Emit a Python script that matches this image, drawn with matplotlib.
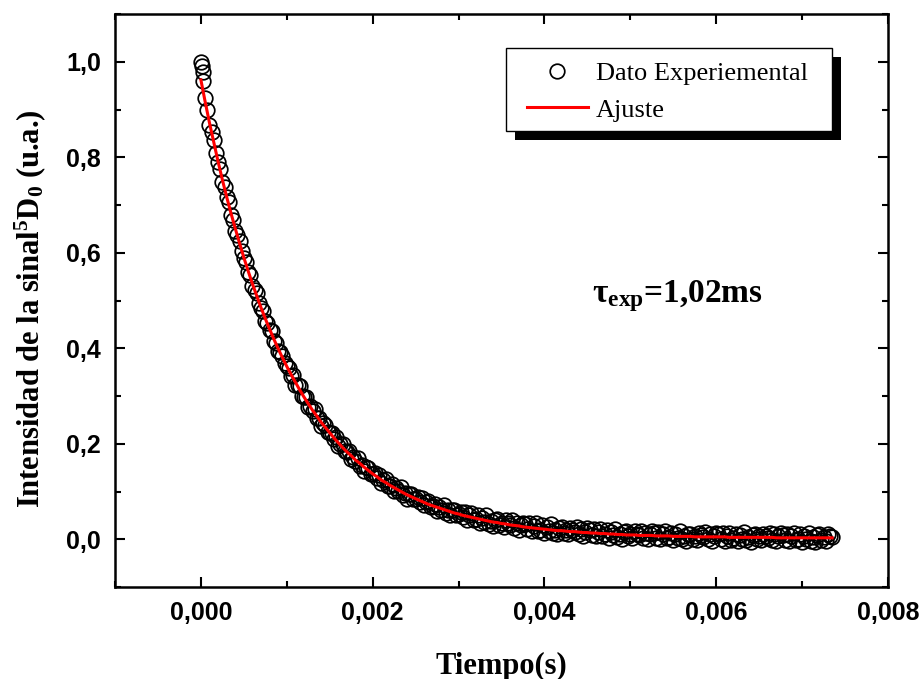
import matplotlib
matplotlib.use('Agg')
import matplotlib.pyplot as plt
import numpy as np
from matplotlib.patches import Rectangle
from matplotlib.ticker import FuncFormatter, MultipleLocator

# decay of the 5D0 emission; data every 0.025 ms, fit every 0.05 ms
dt_data_ms = 0.025
dt_fit_ms = 0.05
t_head_ms = [0.00, 0.01, 0.02]
y_head = [1.000, 0.992, 0.978]

y_data = [
    0.960, 0.925, 0.898, 0.868, 0.852, 0.836, 0.808, 0.790, 0.776, 0.748,
    0.737, 0.716, 0.706, 0.680, 0.668, 0.646, 0.638, 0.624, 0.603, 0.590,
    0.580, 0.560, 0.553, 0.531, 0.523, 0.515, 0.494, 0.484, 0.478, 0.457,
    0.453, 0.439, 0.436, 0.416, 0.410, 0.394, 0.393, 0.384, 0.369, 0.362,
    0.358, 0.342, 0.344, 0.323, 0.323, 0.321, 0.301, 0.297, 0.297, 0.277,
    0.280, 0.268, 0.273, 0.253, 0.253, 0.237, 0.244, 0.240, 0.225, 0.223,
    0.222, 0.209, 0.214, 0.196, 0.199, 0.200, 0.184, 0.182, 0.185, 0.168,
    0.173, 0.164, 0.171, 0.154, 0.156, 0.143, 0.151, 0.150, 0.137, 0.137,
    0.139, 0.128, 0.135, 0.118, 0.124, 0.127, 0.112, 0.112, 0.116, 0.101,
    0.108, 0.101, 0.109, 0.093, 0.097, 0.085, 0.095, 0.095, 0.084, 0.085,
    0.088, 0.078, 0.086, 0.071, 0.077, 0.081, 0.068, 0.069, 0.074, 0.060,
    0.068, 0.062, 0.071, 0.056, 0.061, 0.050, 0.061, 0.061, 0.051, 0.053,
    0.058, 0.046, 0.058, 0.041, 0.050, 0.056, 0.040, 0.042, 0.051, 0.034,
    0.045, 0.037, 0.050, 0.032, 0.038, 0.027, 0.041, 0.042, 0.030, 0.035,
    0.026, 0.040, 0.034, 0.029, 0.040, 0.024, 0.034, 0.020, 0.029, 0.035,
    0.032, 0.021, 0.034, 0.017, 0.027, 0.033, 0.018, 0.020, 0.030, 0.013,
    0.025, 0.017, 0.031, 0.013, 0.020, 0.010, 0.023, 0.025, 0.013, 0.019,
    0.011, 0.024, 0.019, 0.015, 0.025, 0.010, 0.021, 0.006, 0.016, 0.023,
    0.020, 0.009, 0.022, 0.006, 0.016, 0.022, 0.007, 0.010, 0.020, 0.003,
    0.015, 0.008, 0.022, 0.005, 0.011, 0.001, 0.015, 0.017, 0.006, 0.011,
    0.003, 0.017, 0.012, 0.008, 0.018, 0.003, 0.014, 0.000, 0.010, 0.017,
    0.013, 0.003, 0.016, 0.000, 0.010, 0.017, 0.002, 0.004, 0.014, -0.002,
    0.010, 0.003, 0.017, 0.000, 0.007, -0.003, 0.010, 0.012, 0.001, 0.007,
    -0.001, 0.013, 0.008, 0.004, 0.015, 0.000, 0.011, -0.004, 0.006, 0.013,
    0.010, 0.000, 0.013, -0.003, 0.007, 0.014, -0.001, 0.002, 0.012, -0.004,
    0.008, 0.001, 0.015, -0.002, 0.005, -0.005, 0.009, 0.011, 0.000, 0.006,
    -0.002, 0.012, 0.007, 0.003, 0.014, -0.001, 0.010, -0.004, 0.006, 0.013,
    0.009, -0.001, 0.012, -0.004, 0.006, 0.013, -0.002, 0.001, 0.011, -0.005,
    0.007, 0.000, 0.014, -0.003, 0.004, -0.006, 0.008, 0.010, -0.001, 0.005,
    -0.003, 0.011, 0.006, 0.005,
]

y_fit = [
    0.962, 0.916, 0.872, 0.831, 0.791, 0.753, 0.717, 0.683, 0.651, 0.620,
    0.590, 0.562, 0.535, 0.510, 0.485, 0.462, 0.440, 0.419, 0.399, 0.380,
    0.362, 0.345, 0.329, 0.313, 0.298, 0.284, 0.270, 0.258, 0.245, 0.234,
    0.223, 0.212, 0.202, 0.192, 0.183, 0.175, 0.166, 0.159, 0.151, 0.144,
    0.137, 0.131, 0.124, 0.119, 0.113, 0.108, 0.103, 0.098, 0.093, 0.089,
    0.085, 0.081, 0.077, 0.073, 0.070, 0.067, 0.064, 0.061, 0.058, 0.055,
    0.053, 0.050, 0.048, 0.046, 0.044, 0.042, 0.040, 0.038, 0.036, 0.035,
    0.033, 0.032, 0.030, 0.029, 0.028, 0.026, 0.025, 0.024, 0.023, 0.022,
    0.021, 0.020, 0.019, 0.018, 0.018, 0.017, 0.016, 0.016, 0.015, 0.014,
    0.014, 0.013, 0.013, 0.012, 0.012, 0.011, 0.011, 0.010, 0.010, 0.009,
    0.009, 0.009, 0.008, 0.008, 0.008, 0.008, 0.007, 0.007, 0.007, 0.007,
    0.006, 0.006, 0.006, 0.006, 0.006, 0.005, 0.005, 0.005, 0.005, 0.005,
    0.005, 0.005, 0.005, 0.004, 0.004, 0.004, 0.004, 0.004, 0.004, 0.004,
    0.004, 0.004, 0.004, 0.004, 0.003, 0.003, 0.003, 0.003, 0.003, 0.003,
    0.003, 0.003, 0.003, 0.003, 0.003, 0.003, 0.003, 0.003,
]

t_data = np.concatenate([t_head_ms, (np.arange(len(y_data)) + 1) * dt_data_ms]) * 1e-3
y_all = np.concatenate([y_head, y_data])
t_fit = np.arange(len(y_fit)) * dt_fit_ms * 1e-3

plt.rcParams['mathtext.fontset'] = 'custom'
plt.rcParams['mathtext.rm'] = 'Liberation Serif:bold'
plt.rcParams['mathtext.bf'] = 'Liberation Serif:bold'
plt.rcParams['mathtext.it'] = 'Liberation Serif:bold'

W, H = 922, 679
fig = plt.figure(figsize=(W / 100, H / 100), dpi=100)
ax = fig.add_axes([115 / W, 92 / H, 773 / W, 573 / H])

ax.plot(t_data, y_all, 'o', ms=10.5, mfc='none', mec='black', mew=1.25,
        label='Dato Experiemental', zorder=2)
ax.plot(t_fit, y_fit, '-', color='red', lw=2.2, label='Ajuste', zorder=3)

ax.set_xlim(-0.001, 0.008)
ax.set_ylim(-0.1, 1.1)
ax.xaxis.set_major_locator(MultipleLocator(0.002))
ax.xaxis.set_minor_locator(MultipleLocator(0.001))
ax.yaxis.set_minor_locator(MultipleLocator(0.1))
ax.set_yticks([0, 0.2, 0.4, 0.6, 0.8, 1.0])
ax.xaxis.set_major_formatter(FuncFormatter(lambda v, p: f'{v:.3f}'.replace('.', ',')))
ax.yaxis.set_major_formatter(FuncFormatter(lambda v, p: f'{v:.1f}'.replace('.', ',').replace('-', '')))

ax.tick_params(which='both', direction='in', top=True, right=True, width=1.5)
ax.tick_params(which='major', length=7, pad=10)
ax.tick_params(which='minor', length=4.5)
for lab in ax.get_xticklabels() + ax.get_yticklabels():
    lab.set_fontfamily('Liberation Sans')
    lab.set_fontweight('bold')
    lab.set_fontsize(18)
for sp in ax.spines.values():
    sp.set_linewidth(1.8)

ax.set_xlabel('Tiempo(s)', fontfamily='Liberation Serif', fontweight='bold', fontsize=22)
ax.xaxis.set_label_coords(0.5, -0.113)
ax.set_ylabel(r'Intensidad de la sinal$^{5}$D$_{0}$ (u.a.)', fontfamily='Liberation Serif',
              fontweight='bold', fontsize=22)
ax.yaxis.set_label_coords(-0.087, 0.485)

ax.text(0.00455, 0.497, r'τ$_{exp}$=1,02ms', fontfamily='Liberation Serif',
        fontweight='bold', fontsize=24, va='baseline', ha='left')

# legend box with a hard black shadow, like the Origin original
frame = Rectangle((506, H - 131), 326, 83, transform=None, facecolor='white',
                  edgecolor='black', lw=1.0, zorder=5, clip_on=False)
shadow = Rectangle((515, H - 140), 326, 83, transform=None, facecolor='black',
                   edgecolor='none', zorder=4, clip_on=False)
ax.add_artist(shadow)
ax.add_artist(frame)

leg = ax.legend(loc='upper left', bbox_to_anchor=(527 / W, 1 - 62 / H),
                bbox_transform=fig.transFigure, borderaxespad=0, borderpad=0,
                frameon=False, handlelength=2.3, handletextpad=0.3, labelspacing=0.48,
                prop={'family': 'Liberation Serif', 'size': 19})
leg.set_zorder(6)

fig.savefig('out.png', dpi=100)
